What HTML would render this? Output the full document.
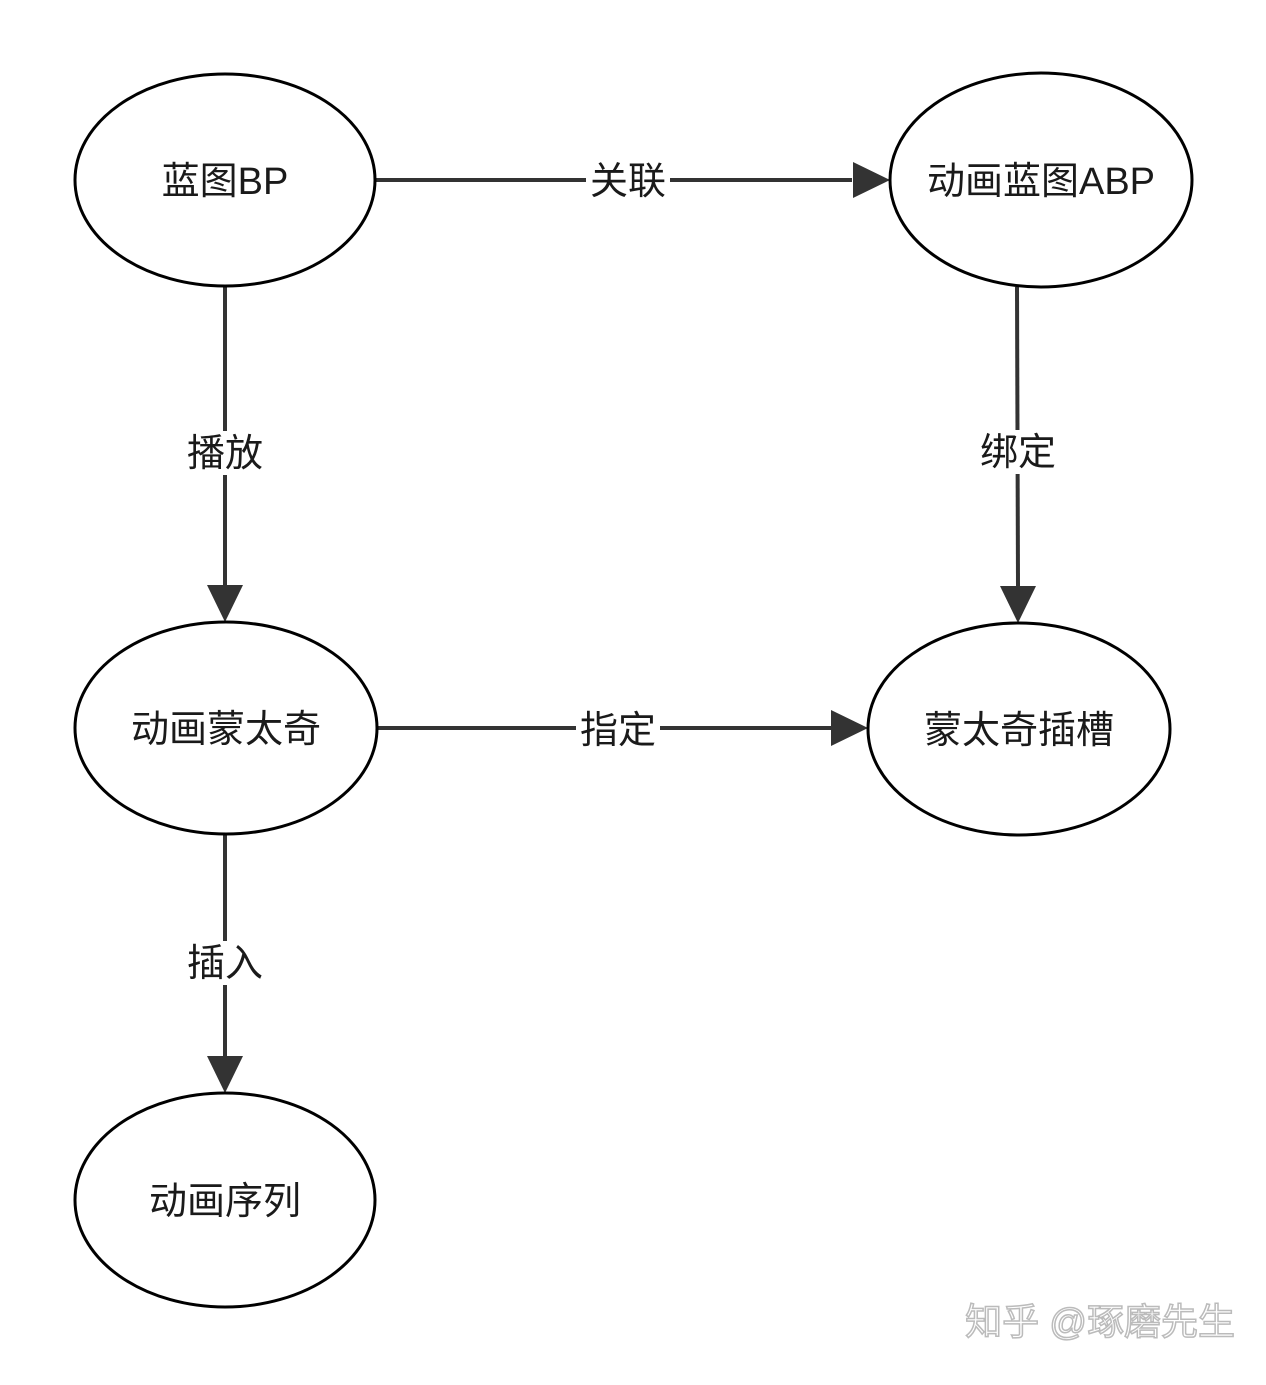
<!DOCTYPE html>
<html><head><meta charset="utf-8"><style>
html,body{margin:0;padding:0;background:#fff;}
svg text{font-family:"Liberation Sans","Noto Sans CJK SC",sans-serif;}
</style></head><body>
<svg width="1266" height="1380" viewBox="0 0 1266 1380" xmlns="http://www.w3.org/2000/svg">
<rect width="1266" height="1380" fill="#fff"/>
<g stroke="#333" stroke-width="4" fill="none">
<line x1="376" y1="180" x2="852" y2="180"/>
<path d="M853,162 L890,180 L853,198 z" fill="#333" stroke="none"/>
<line x1="225" y1="285" x2="225" y2="585"/>
<path d="M207,585 L225,622 L243,585 z" fill="#333" stroke="none"/>
<line x1="1017" y1="287" x2="1018" y2="586"/>
<path d="M1000,586 L1018,623 L1036,586 z" fill="#333" stroke="none"/>
<line x1="377" y1="728" x2="831" y2="728"/>
<path d="M831,710 L868,728 L831,746 z" fill="#333" stroke="none"/>
<line x1="225" y1="835" x2="225" y2="1056"/>
<path d="M207,1056 L225,1093 L243,1056 z" fill="#333" stroke="none"/>
</g>
<g fill="#fff" stroke="#000" stroke-width="3">
<ellipse cx="225" cy="180" rx="150" ry="106"/>
<ellipse cx="1041" cy="180" rx="151" ry="107"/>
<ellipse cx="226" cy="728" rx="151" ry="106"/>
<ellipse cx="1019" cy="729" rx="151" ry="106"/>
<ellipse cx="225" cy="1200" rx="150" ry="107"/>
</g>
<g fill="#fff">
<rect x="586" y="158" width="84" height="44"/>
<rect x="183" y="431" width="84" height="44"/>
<rect x="976" y="430" width="84" height="44"/>
<rect x="576" y="708" width="84" height="44"/>
<rect x="183" y="941" width="84" height="44"/>
</g>
<g font-size="38" fill="#1a1a1a" text-anchor="middle" dominant-baseline="central">
<text x="225" y="182">蓝图BP</text>
<text x="1041" y="182">动画蓝图ABP</text>
<text x="226" y="730">动画蒙太奇</text>
<text x="1019" y="731">蒙太奇插槽</text>
<text x="225" y="1202">动画序列</text>
<text x="628" y="182">关联</text>
<text x="225" y="454">播放</text>
<text x="1018" y="453">绑定</text>
<text x="618" y="731">指定</text>
<text x="225" y="964">插入</text>
</g>
<text x="1235" y="1322" font-size="37" fill="#fff" stroke="#bbb" stroke-width="1.5" text-anchor="end" dominant-baseline="central">知乎 @琢磨先生</text>
</svg>
</body></html>
